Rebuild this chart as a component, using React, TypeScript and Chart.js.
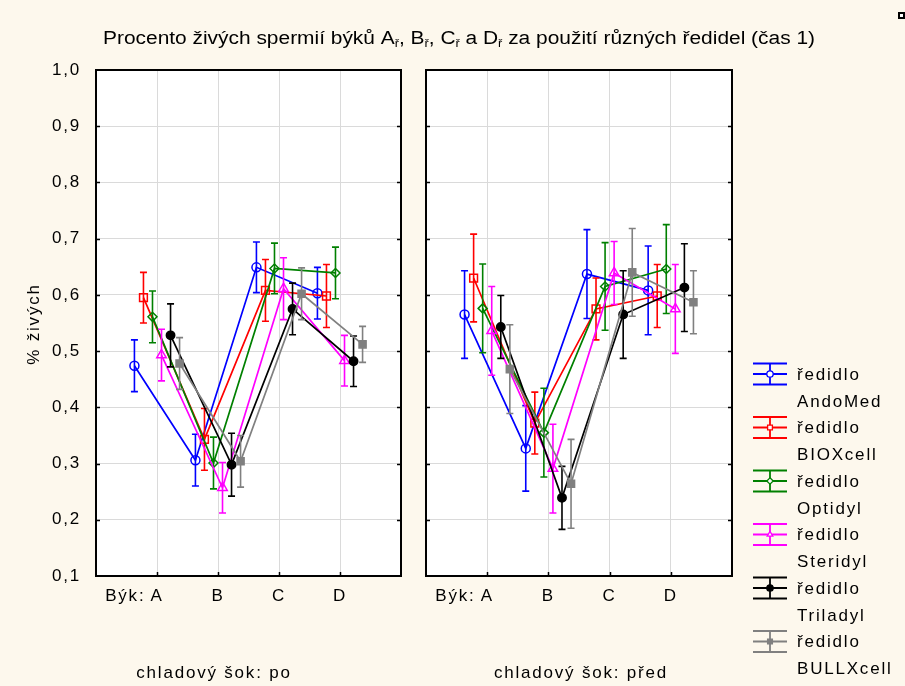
import React, { useEffect, useRef } from 'react';
import { Chart, registerables } from 'chart.js';

Chart.register(...registerables);

// ---------- data ----------
const bulls = ['A', 'B', 'C', 'D'];
const bullPrefix = 'Býk:';
const seriesNames = ['AndoMed', 'BIOXcell', 'Optidyl', 'Steridyl', 'Triladyl', 'BULLXcell'];
const legendPrefix = 'ředidlo';
const panelTitles = ['chladový šok: po', 'chladový šok: před'];
const yAxisTitle = '% živých';
const titleParts: [string, boolean][] = [
  ['Procento živých spermií býků A', false], ['ř', true],
  [', B', false], ['ř', true],
  [', C', false], ['ř', true],
  [' a D', false], ['ř', true],
  [' za použití různých ředidel (čas 1)', false],
];
const yMin = 0.1;
const yMax = 1.0;
const yStep = 0.1;

// chladový šok: po  (means and half-widths of the error bars)
const poAndoMed = [0.474, 0.306, 0.649, 0.603];
const poBIOXcell = [0.595, 0.343, 0.608, 0.598];
const poOptidyl = [0.561, 0.301, 0.647, 0.639];
const poSteridyl = [0.493, 0.257, 0.611, 0.483];
const poTriladyl = [0.528, 0.298, 0.575, 0.482];
const poBULLXcell = [0.478, 0.304, 0.602, 0.512];
const poErrAndoMed = [0.046, 0.046, 0.045, 0.046];
const poErrBIOXcell = [0.045, 0.055, 0.055, 0.056];
const poErrOptidyl = [0.046, 0.046, 0.045, 0.046];
const poErrSteridyl = [0.046, 0.045, 0.055, 0.045];
const poErrTriladyl = [0.056, 0.056, 0.046, 0.045];
const poErrBULLXcell = [0.046, 0.046, 0.046, 0.032];

// chladový šok: před
const predAndoMed = [0.565, 0.327, 0.637, 0.608];
const predBIOXcell = [0.630, 0.372, 0.575, 0.598];
const predOptidyl = [0.576, 0.355, 0.615, 0.646];
const predSteridyl = [0.536, 0.291, 0.639, 0.575];
const predTriladyl = [0.543, 0.239, 0.565, 0.613];
const predBULLXcell = [0.468, 0.264, 0.640, 0.587];
const predErrAndoMed = [0.078, 0.076, 0.079, 0.079];
const predErrBIOXcell = [0.078, 0.055, 0.055, 0.056];
const predErrOptidyl = [0.079, 0.079, 0.078, 0.079];
const predErrSteridyl = [0.079, 0.079, 0.056, 0.079];
const predErrTriladyl = [0.056, 0.056, 0.078, 0.078];
const predErrBULLXcell = [0.079, 0.079, 0.078, 0.056];

const poMeans = [poAndoMed, poBIOXcell, poOptidyl, poSteridyl, poTriladyl, poBULLXcell];
const poErrs = [poErrAndoMed, poErrBIOXcell, poErrOptidyl, poErrSteridyl, poErrTriladyl, poErrBULLXcell];
const predMeans = [predAndoMed, predBIOXcell, predOptidyl, predSteridyl, predTriladyl, predBULLXcell];
const predErrs = [predErrAndoMed, predErrBIOXcell, predErrOptidyl, predErrSteridyl, predErrTriladyl, predErrBULLXcell];

// ---------- styles ----------
const BG = '#fdf8ed';
const FONT = '"Liberation Sans", Arial, sans-serif';
const FS = 17;
const LS = '1.8px';
const colors = ['#0000ff', '#ff0000', '#008000', '#ff00ff', '#000000', '#808080'];
const styles = ['circle', 'rect', 'rectRot', 'triangle', 'circle', 'rect'];
const filled = [false, false, false, false, true, true];
const radii = [4.5, 5.5, 4.5, 5.5, 4.2, 5];
const dodge = 0.148;

function drawMarker(ctx: CanvasRenderingContext2D, style: string, x: number, y: number, r: number, color: string, fill: boolean) {
  ctx.beginPath();
  if (style === 'circle') {
    ctx.arc(x, y, r, 0, Math.PI * 2);
  } else if (style === 'rect') {
    const s = r * 0.75;
    ctx.rect(x - s, y - s, 2 * s, 2 * s);
  } else if (style === 'rectRot') {
    ctx.moveTo(x, y - r); ctx.lineTo(x + r, y); ctx.lineTo(x, y + r); ctx.lineTo(x - r, y); ctx.closePath();
  } else {
    ctx.moveTo(x, y - r); ctx.lineTo(x + r * 0.87, y + r * 0.5); ctx.lineTo(x - r * 0.87, y + r * 0.5); ctx.closePath();
  }
  ctx.fillStyle = fill ? color : '#ffffff';
  ctx.fill();
  ctx.strokeStyle = color;
  ctx.lineWidth = 1.3;
  ctx.stroke();
}

function makePanel(canvas: HTMLCanvasElement, panel: number) {
  const means = panel === 0 ? poMeans : predMeans;
  const errs = panel === 0 ? poErrs : predErrs;
  const left = panel === 0 ? 96 : 426;
  const right = panel === 0 ? 401 : 732;
  const top = 70;
  const bottom = 576;
  const W = 905;
  const H = 686;
  const xAxisH = 40;

  const datasets = seriesNames.map((name, i) => ({
    label: name,
    data: means[i].map((v, j) => ({ x: j + (i - 2.5) * dodge, y: v })),
    err: errs[i],
    borderColor: colors[i],
    backgroundColor: filled[i] ? colors[i] : 'rgba(255,255,255,0)',
    pointBackgroundColor: filled[i] ? colors[i] : 'rgba(255,255,255,0)',
    pointBorderColor: colors[i],
    pointStyle: styles[i],
    pointRadius: radii[i],
    pointBorderWidth: 1.5,
    borderWidth: 1.7,
    tension: 0,
    fill: false,
    order: seriesNames.length - 1 - i,
  }));

  const plugin = {
    id: 'panelDeco' + panel,
    beforeDraw(chart: any) {
      const ctx = chart.ctx as CanvasRenderingContext2D;
      (ctx as any).letterSpacing = LS;
      const a = chart.chartArea;
      ctx.save();
      ctx.fillStyle = '#ffffff';
      ctx.fillRect(a.left, a.top, a.right - a.left, a.bottom - a.top);
      ctx.restore();
    },
    afterDatasetDraw(chart: any, args: any) {
      const ctx = chart.ctx as CanvasRenderingContext2D;
      const meta = args.meta;
      const ds = chart.data.datasets[args.index];
      const ys = chart.scales.y;
      ctx.save();
      ctx.strokeStyle = ds.borderColor;
      ctx.lineWidth = 1.6;
      meta.data.forEach((pt: any, j: number) => {
        const v = ds.data[j].y;
        const e = ds.err[j];
        const y1 = ys.getPixelForValue(v + e);
        const y2 = ys.getPixelForValue(v - e);
        ctx.beginPath();
        ctx.moveTo(pt.x, y1); ctx.lineTo(pt.x, y2);
        ctx.moveTo(pt.x - 3.5, y1); ctx.lineTo(pt.x + 3.5, y1);
        ctx.moveTo(pt.x - 3.5, y2); ctx.lineTo(pt.x + 3.5, y2);
        ctx.stroke();
      });
      ctx.restore();
    },
    afterDraw(chart: any) {
      const ctx = chart.ctx as CanvasRenderingContext2D;
      const a = chart.chartArea;
      const xs = chart.scales.x;
      const ys = chart.scales.y;
      ctx.save();
      // frame
      ctx.strokeStyle = '#000';
      ctx.lineWidth = 2;
      ctx.strokeRect(a.left, a.top, a.right - a.left, a.bottom - a.top);
      // inward tick marks
      ctx.lineWidth = 1.5;
      ctx.beginPath();
      for (let v = yMin + yStep; v < yMax - 1e-6; v += yStep) {
        const py = Math.round(ys.getPixelForValue(v)) + 0.5;
        ctx.moveTo(a.left, py); ctx.lineTo(a.left + 4, py);
        ctx.moveTo(a.right, py); ctx.lineTo(a.right - 4, py);
      }
      bulls.forEach((_, j) => {
        const px = Math.round(xs.getPixelForValue(j)) + 0.5;
        ctx.moveTo(px, a.bottom); ctx.lineTo(px, a.bottom - 4);
      });
      ctx.stroke();

      // text
      (ctx as any).letterSpacing = LS;
      ctx.fillStyle = '#000';
      ctx.font = FS + 'px ' + FONT;
      // "Býk:" prefix before first label
      const ax = xs.getPixelForValue(0);
      const wA = ctx.measureText('A').width;
      ctx.textAlign = 'right';
      ctx.textBaseline = 'middle';
      ctx.fillText(bullPrefix, ax - wA / 2 - 5, 596);
      // panel subtitle
      ctx.textAlign = 'center';
      const subX = panel === 0 ? 214 : (a.left + a.right) / 2 + 2;
      ctx.fillText(panelTitles[panel], subX, 673);

      if (panel === 0) {
        // y axis title
        ctx.save();
        ctx.translate(34, 324);
        ctx.rotate(-Math.PI / 2);
        ctx.textAlign = 'center';
        ctx.textBaseline = 'middle';
        ctx.fillText(yAxisTitle, 0, 0);
        ctx.restore();
        // main title
        (ctx as any).letterSpacing = '0px';
        const mainFont = '18px ' + FONT;
        const subFont = '11px ' + FONT;
        let total = 0;
        titleParts.forEach(([t, sub]) => {
          ctx.font = sub ? subFont : mainFont;
          total += ctx.measureText(t).width;
        });
        const sx = 712 / total;
        ctx.save();
        ctx.translate(103, 0);
        ctx.scale(sx, 1);
        ctx.textAlign = 'left';
        ctx.textBaseline = 'alphabetic';
        let cx = 0;
        titleParts.forEach(([t, sub]) => {
          ctx.font = sub ? subFont : mainFont;
          ctx.fillText(t, cx, sub ? 47 : 44);
          cx += ctx.measureText(t).width;
        });
        ctx.restore();
      } else {
        // legend
        seriesNames.forEach((name, i) => {
          const y0 = 374 + i * 53.5;
          ctx.strokeStyle = colors[i];
          ctx.lineWidth = 1.8;
          ctx.beginPath();
          ctx.moveTo(753, y0 - 10.5); ctx.lineTo(787, y0 - 10.5);
          ctx.moveTo(753, y0); ctx.lineTo(787, y0);
          ctx.moveTo(753, y0 + 10.5); ctx.lineTo(787, y0 + 10.5);
          ctx.moveTo(770, y0 - 10.5); ctx.lineTo(770, y0 + 10.5);
          ctx.stroke();
          drawMarker(ctx, styles[i], 770, y0, 3.2, colors[i], filled[i]);
          (ctx as any).letterSpacing = LS;
          ctx.fillStyle = '#000';
          ctx.font = FS + 'px ' + FONT;
          ctx.textAlign = 'left';
          ctx.textBaseline = 'middle';
          ctx.fillText(legendPrefix, 797, y0 + 1);
          ctx.fillText(name, 797, y0 + 28);
        });
        // small corner mark
        ctx.fillStyle = '#000';
        ctx.fillRect(898, 12, 7, 7);
        ctx.fillStyle = '#ffffff';
        ctx.fillRect(900, 14, 3, 3);
      }
      ctx.restore();
    },
  };

  return new Chart(canvas, {
    type: 'line',
    data: { datasets } as any,
    options: {
      responsive: false,
      animation: false,
      devicePixelRatio: 1,
      events: [],
      layout: { padding: { left: 0, top: top, right: W - right, bottom: H - bottom - xAxisH } },
      plugins: { legend: { display: false }, tooltip: { enabled: false }, title: { display: false } },
      scales: {
        x: {
          type: 'linear',
          min: -1,
          max: 4,
          afterFit: (s: any) => { s.height = xAxisH; },
          afterBuildTicks: (s: any) => { s.ticks = bulls.map((_, j) => ({ value: j })); },
          border: { display: false },
          grid: { color: '#dadada', lineWidth: 1, drawTicks: false },
          ticks: {
            autoSkip: false,
            maxRotation: 0,
            padding: 10,
            color: '#000',
            font: { family: FONT, size: FS },
            callback: (v: any) => bulls[Math.round(v)] ?? '',
          },
        },
        y: {
          type: 'linear',
          min: yMin,
          max: yMax,
          afterFit: (s: any) => { s.width = left; },
          border: { display: false },
          grid: { color: '#dadada', lineWidth: 1, drawTicks: false },
          ticks: {
            display: panel === 0,
            stepSize: yStep,
            padding: 15,
            color: '#000',
            font: { family: FONT, size: FS },
            callback: (v: any) => Number(v).toFixed(1).replace('.', ','),
          },
        },
      },
    } as any,
    plugins: [plugin as any],
  });
}

export default function App() {
  const leftRef = useRef<HTMLCanvasElement>(null);
  const rightRef = useRef<HTMLCanvasElement>(null);
  useEffect(() => {
    document.body.style.margin = '0';
    document.body.style.background = BG;
    const c1 = makePanel(leftRef.current as HTMLCanvasElement, 0);
    const c2 = makePanel(rightRef.current as HTMLCanvasElement, 1);
    return () => { c1.destroy(); c2.destroy(); };
  }, []);
  return (
    <div style={{ position: 'relative', width: 905, height: 686, background: BG, overflow: 'hidden' }}>
      <canvas ref={leftRef} width={905} height={686} style={{ position: 'absolute', left: 0, top: 0 }} />
      <canvas ref={rightRef} width={905} height={686} style={{ position: 'absolute', left: 0, top: 0 }} />
    </div>
  );
}
